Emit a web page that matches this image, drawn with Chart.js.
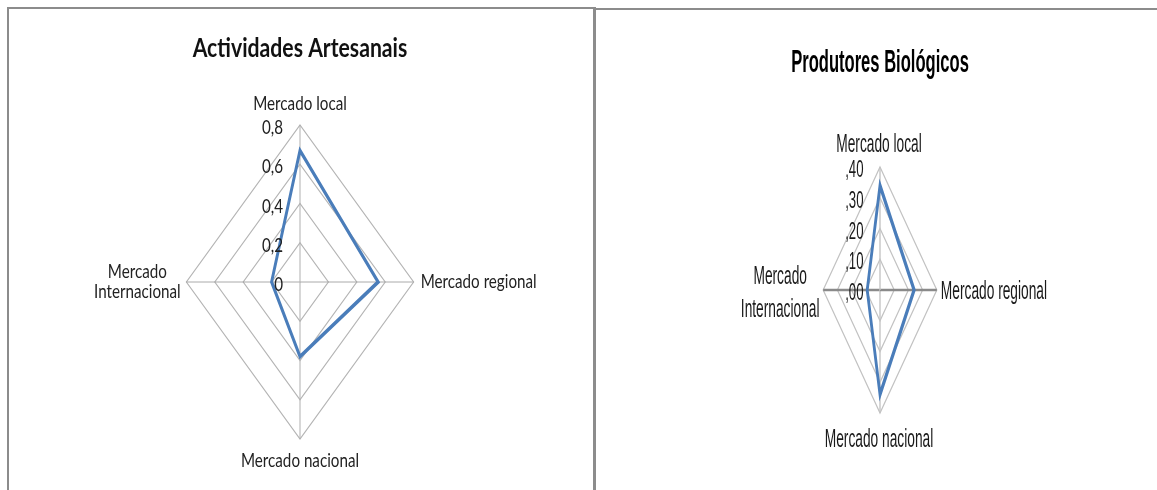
<!DOCTYPE html>
<html>
<head>
<meta charset="utf-8">
<script src="https://cdn.jsdelivr.net/npm/chart.js@4.4.0/dist/chart.umd.min.js"></script>
<style>
  html, body { margin: 0; padding: 0; background: #ffffff; width: 1157px; height: 490px; overflow: hidden; position: relative; }
  .frame { position: absolute; box-sizing: border-box; border-color: #8c8c8c; border-style: solid; }
  #leftFrame { left: 7px; top: 7px; width: 589px; height: 500px; border-width: 2px 3px 0 2px; }
  #rightFrame { left: 596px; top: 8px; width: 570px; height: 500px; border-width: 2px 0 0 0; }
  canvas { position: absolute; }
  #artesanais { left: 9px; top: 9px; }
  #biologicos { left: 597px; top: 10px; }
</style>
</head>
<body>
<div class="frame" id="leftFrame"></div>
<div class="frame" id="rightFrame"></div>
<canvas id="artesanais" width="584" height="481"></canvas>
<canvas id="biologicos" width="560" height="480"></canvas>
<script>
// Market axes, clockwise from the top
const categories = ['Mercado local', 'Mercado regional', 'Mercado nacional', 'Mercado Internacional'];

// Actividades Artesanais
const artesanaisTitle = 'Actividades Artesanais';
const artesanaisValues = [0.67, 0.55, 0.38, 0.20];
const artesanaisTicks = ['0', '0,2', '0,4', '0,6', '0,8'];

// Produtores Biológicos
const biologicosTitle = 'Produtores Biológicos';
const biologicosValues = [0.34, 0.24, 0.34, 0.09];
const biologicosTicks = [',00', ',10', ',20', ',30', ',40'];

const LINE_BLUE = '#4a7dba';

// Draws a string compressed horizontally by sx around its anchor point
function putText(ctx, str, x, y, font, color, align, sx) {
  ctx.save();
  ctx.translate(x, y);
  ctx.scale(sx, 1);
  ctx.font = font;
  ctx.fillStyle = color;
  ctx.textAlign = align;
  ctx.textBaseline = 'alphabetic';
  ctx.fillText(str, 0, 0);
  ctx.restore();
}

// Radar drawn narrower than tall: grid and line are compressed horizontally
// about the centre; titles, axis names and tick labels are placed afterwards.
const narrowRadar = {
  id: 'narrowRadar',
  beforeDraw(chart, args, opts) {
    const s = chart.scales.r;
    const ctx = chart.ctx;
    ctx.save();
    ctx.translate(s.xCenter, 0);
    ctx.scale(opts.sx, 1);
    ctx.translate(-s.xCenter, 0);
  },
  afterDatasetsDraw(chart) {
    chart.ctx.restore();
  },
  afterDraw(chart, args, opts) {
    const s = chart.scales.r;
    const ctx = chart.ctx;
    const sx = opts.sx;
    const squash = (p) => ({ x: s.xCenter + (p.x - s.xCenter) * sx, y: p.y });

    // title
    putText(ctx, opts.title.text, s.xCenter + opts.title.dx, opts.title.y, opts.title.font, opts.title.color, 'center', opts.title.sx);

    // axis names at the outer vertices
    chart.data.labels.forEach((label, i) => {
      const v = squash(s.getPointPosition(i, s.drawingArea));
      const L = opts.labels[i];
      const lines = L.lines || [label];
      lines.forEach((line, k) => {
        putText(ctx, line, v.x + L.dx, v.y + L.dy + k * (L.lineHeight || 0), opts.labelFont, opts.labelColor, L.align, opts.textSx);
      });
    });

    // value ticks beside the vertical axis
    s.ticks.forEach((t, i) => {
      const y = s.yCenter - s.getDistanceFromCenterForValue(t.value);
      putText(ctx, opts.tickText[i], s.xCenter + opts.tickDx, y + opts.tickDy, opts.tickFont, opts.labelColor, 'right', opts.textSx);
    });
  }
};

function radarChart(id, values, cfg) {
  return new Chart(document.getElementById(id), {
    type: 'radar',
    data: {
      labels: categories,
      datasets: [{
        data: values,
        borderColor: LINE_BLUE,
        borderWidth: cfg.lineWidth,
        backgroundColor: 'transparent',
        fill: false,
        pointRadius: 0,
        pointHoverRadius: 0,
        tension: 0
      }]
    },
    plugins: [narrowRadar],
    options: {
      responsive: false,
      animation: false,
      events: [],
      layout: { padding: cfg.padding },
      plugins: {
        legend: { display: false },
        title: { display: false },
        tooltip: { enabled: false },
        narrowRadar: cfg.text
      },
      scales: {
        r: {
          min: 0,
          max: cfg.max,
          ticks: { stepSize: cfg.step, display: false },
          pointLabels: { display: false },
          grid: { color: cfg.gridColor, lineWidth: cfg.gridWidth, circular: false },
          angleLines: {
            color: (c) => cfg.axisColor[c.index],
            lineWidth: (c) => cfg.axisWidth[c.index]
          }
        }
      }
    }
  });
}

radarChart('artesanais', artesanaisValues, {
  max: 0.8, step: 0.2, lineWidth: 4,
  padding: { left: 134, right: 135, top: 116, bottom: 50 },
  gridColor: '#b4b4b4', gridWidth: 1.3,
  axisColor: ['#b0b0b0', '#9c9c9c', '#b0b0b0', '#9c9c9c'],
  axisWidth: [1.4, 1, 1.4, 1],
  text: {
    sx: 0.724,
    textSx: 0.8,
    title: { text: artesanaisTitle, dx: 0, y: 48, font: 'bold 26px Lato', color: '#111111', sx: 0.815 },
    labelFont: '19px Lato',
    labelColor: '#222222',
    labels: [
      { dx: 0, dy: -15, align: 'center' },
      { dx: 7, dy: 6, align: 'left' },
      { dx: 0, dy: 28, align: 'center' },
      { dx: -49, dy: -4, align: 'center', lines: ['Mercado', 'Internacional'], lineHeight: 20 }
    ],
    tickText: artesanaisTicks,
    tickFont: '19px Lato',
    tickDx: -17,
    tickDy: 9
  }
});

radarChart('biologicos', biologicosValues, {
  max: 0.4, step: 0.1, lineWidth: 6,
  padding: { left: 160, right: 153, top: 157, bottom: 76 },
  gridColor: '#c2c2c2', gridWidth: 2,
  axisColor: ['#c4c4c4', '#8a8a8a', '#c4c4c4', '#8a8a8a'],
  axisWidth: [3, 2.5, 3, 2.5],
  text: {
    sx: 0.462,
    textSx: 0.55,
    title: { text: biologicosTitle, dx: 0, y: 62, font: 'bold 32px "Liberation Sans"', color: '#000000', sx: 0.518 },
    labelFont: '25px "Liberation Sans"',
    labelColor: '#1a1a1a',
    labels: [
      { dx: -1, dy: -15.5, align: 'center' },
      { dx: 4, dy: 9.3, align: 'left' },
      { dx: -1, dy: 34, align: 'center' },
      { dx: -43, dy: -5.7, align: 'center', lines: ['Mercado', 'Internacional'], lineHeight: 33 }
    ],
    tickText: biologicosTicks,
    tickFont: '24px "Liberation Sans"',
    tickDx: -16.5,
    tickDy: 10
  }
});
</script>
</body>
</html>
